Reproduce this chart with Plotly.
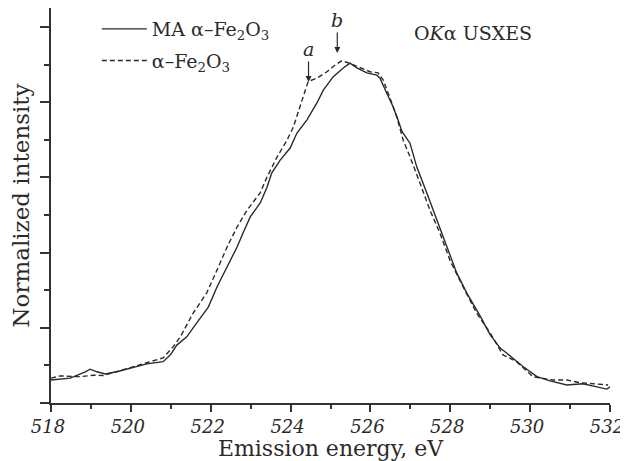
import plotly.graph_objects as go

# Energy (eV) and normalized intensity
ma_energy = [518.00, 518.48, 518.86, 518.98, 519.15, 519.36, 519.65, 519.98, 520.40, 520.81,
             520.99, 521.15, 521.40, 521.65, 521.94, 522.16, 522.41, 522.66, 522.81, 522.99,
             523.24, 523.41, 523.53, 523.74, 523.99, 524.16, 524.41, 524.66, 524.82, 525.07,
             525.32, 525.49, 525.66, 525.91, 526.16, 526.24, 526.41, 526.57, 526.69, 526.79,
             526.99, 527.16, 527.41, 527.66, 527.91, 528.16, 528.41, 528.75, 529.00, 529.25,
             529.41, 529.82, 530.17, 530.50, 530.92, 531.32, 531.67, 531.92, 532.00]
ma_intensity = [0.061, 0.066, 0.083, 0.090, 0.083, 0.077, 0.083, 0.093, 0.104, 0.110,
                0.128, 0.154, 0.176, 0.213, 0.255, 0.309, 0.362, 0.415, 0.452, 0.495,
                0.532, 0.574, 0.612, 0.646, 0.678, 0.718, 0.753, 0.798, 0.832, 0.868,
                0.891, 0.904, 0.891, 0.878, 0.872, 0.864, 0.824, 0.787, 0.753, 0.722,
                0.691, 0.628, 0.559, 0.487, 0.416, 0.346, 0.293, 0.231, 0.181, 0.146,
                0.133, 0.097, 0.070, 0.059, 0.048, 0.051, 0.043, 0.037, 0.043]

ref_energy = [518.00, 518.23, 518.73, 519.06, 519.31, 519.81, 520.40, 520.81, 521.06, 521.24,
              521.56, 521.90, 522.16, 522.41, 522.66, 522.91, 523.24, 523.41, 523.66, 523.91,
              524.07, 524.28, 524.44, 524.66, 524.91, 525.12, 525.28, 525.44, 525.74, 525.99,
              526.19, 526.32, 526.49, 526.66, 526.82, 526.99, 527.24, 527.49, 527.74, 527.99,
              528.32, 528.66, 529.00, 529.32, 529.66, 530.07, 530.57, 530.92, 531.25, 531.67,
              531.95]
ref_intensity = [0.066, 0.072, 0.070, 0.074, 0.073, 0.088, 0.106, 0.120, 0.150, 0.176,
                 0.239, 0.293, 0.354, 0.415, 0.468, 0.513, 0.559, 0.601, 0.654, 0.699,
                 0.734, 0.806, 0.855, 0.864, 0.881, 0.899, 0.910, 0.905, 0.891, 0.881,
                 0.878, 0.859, 0.811, 0.761, 0.699, 0.655, 0.585, 0.513, 0.452, 0.380,
                 0.309, 0.239, 0.186, 0.128, 0.110, 0.070, 0.061, 0.061, 0.054, 0.050,
                 0.048]

series_names = ["MA α–Fe<sub>2</sub>O<sub>3</sub>", "α–Fe<sub>2</sub>O<sub>3</sub>"]
x_ticks = [518, 520, 522, 524, 526, 528, 530, 532]
marker_labels = ["a", "b"]
marker_energy = [524.45, 525.17]
marker_intensity = [0.854, 0.931]

SERIF = "DejaVu Serif"
INK = "#2a2a2a"

fig = go.Figure()
fig.add_trace(go.Scatter(x=ma_energy, y=ma_intensity, mode="lines", name=series_names[0],
                         legendgroup="g1", line=dict(color=INK, width=1.4)))
fig.add_trace(go.Scatter(x=ref_energy, y=ref_intensity, mode="lines", name=series_names[1],
                         legendgroup="g2", line=dict(color=INK, width=1.4, dash="5px,3px")))

for lab, ex, ey in zip(marker_labels, marker_energy, marker_intensity):
    fig.add_annotation(x=ex, y=ey, text="<i>%s</i>" % lab, showarrow=True, ax=0, ay=-33,
                       arrowhead=2, arrowsize=1, arrowwidth=1.2, arrowcolor=INK,
                       font=dict(family=SERIF, size=19, color=INK))

fig.add_annotation(x=0.645, y=0.937, xref="paper", yref="paper", xanchor="left",
                   yanchor="middle", showarrow=False,
                   text="O<i>K</i>α USXES", font=dict(family=SERIF, size=19, color=INK))

# the page adds an 8 px body margin, so the figure is sized to the visible area
fig.update_layout(
    width=620, height=453,
    margin=dict(l=43, r=18, t=0, b=58),
    paper_bgcolor="white", plot_bgcolor="white",
    font=dict(family=SERIF, color=INK),
    showlegend=True,
    legend=dict(x=0.082, y=0.995, xanchor="left", yanchor="top", bgcolor="rgba(0,0,0,0)",
                font=dict(family=SERIF, size=19, color=INK), tracegroupgap=4,
                itemwidth=45),
    xaxis=dict(range=[518, 532], tickvals=x_ticks, ticks="outside", ticklen=7, tickwidth=1.5,
               tickcolor="#333", showline=True, linecolor="#333", linewidth=1.5,
               showgrid=False, zeroline=False, automargin=False, ticklabelshift=-3,
               minor=dict(dtick=1, ticks="outside", ticklen=4, tickwidth=1.5, tickcolor="#333"),
               tickfont=dict(family=SERIF, size=18, style="italic", color=INK),
               title=dict(text="Emission energy, eV", standoff=2,
                          font=dict(family=SERIF, size=22, color=INK))),
    yaxis=dict(range=[0, 1.0505], dtick=0.2, tick0=0, ticks="outside", ticklen=9, tickwidth=1.5,
               tickcolor="#333", showline=True, linecolor="#333", linewidth=1.5,
               showticklabels=False, showgrid=False, zeroline=False, automargin=False,
               minor=dict(dtick=0.1, ticks="outside", ticklen=5, tickwidth=1.5, tickcolor="#333"),
               title=dict(text="Normalized intensity", standoff=5,
                          font=dict(family=SERIF, size=23, color=INK))),
)

fig.write_html("out.html")
